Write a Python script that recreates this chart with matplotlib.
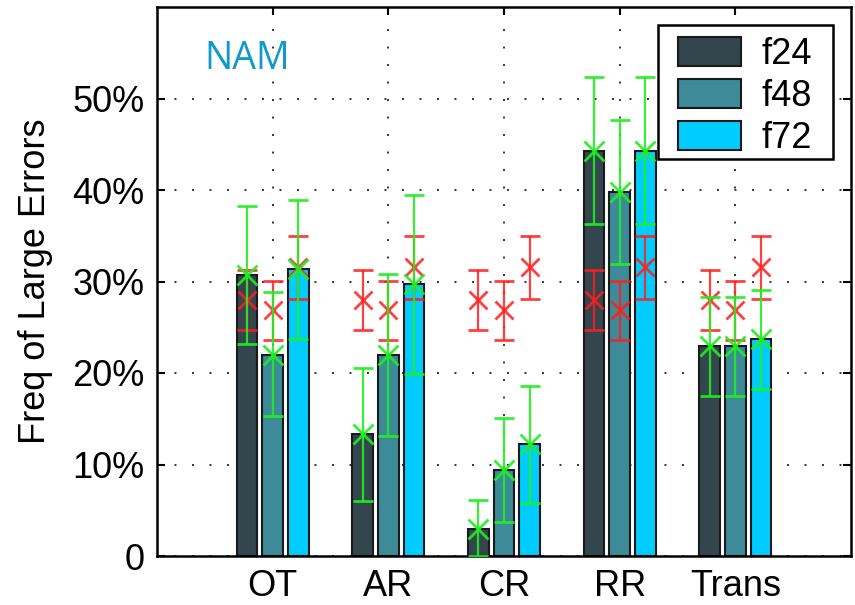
import matplotlib
matplotlib.use("Agg")
import matplotlib.pyplot as plt
import numpy as np
from matplotlib.ticker import FuncFormatter
from matplotlib.patches import Rectangle

plt.rcParams['font.family'] = ['Liberation Sans', 'DejaVu Sans']

# values (percent)
categories = ['OT', 'AR', 'CR', 'RR', 'Trans']
series = ['f24', 'f48', 'f72']
colors = ['#33454D', '#3D8A99', '#00CCFF']

f24 = [30.7, 13.3, 2.9, 44.3, 22.9]
f48 = [22.0, 22.0, 9.4, 39.8, 22.9]
f72 = [31.4, 29.7, 12.2, 44.3, 23.7]

f24_lo = [23.2, 6.0, 0.0, 36.3, 17.5]
f24_hi = [38.2, 20.5, 6.1, 52.3, 28.3]
f48_lo = [15.3, 13.1, 3.7, 31.9, 17.5]
f48_hi = [28.8, 30.8, 15.1, 47.7, 28.3]
f72_lo = [23.7, 19.9, 5.8, 36.3, 18.3]
f72_hi = [38.9, 39.4, 18.6, 52.3, 29.1]

# reference (red) values, same for every category
ref = [28.0, 26.9, 31.6]
ref_lo = [24.7, 23.6, 28.1]
ref_hi = [31.3, 30.1, 35.0]

vals = [f24, f48, f72]
los = [f24_lo, f48_lo, f72_lo]
his = [f24_hi, f48_hi, f72_hi]

fig = plt.figure(figsize=(8.55, 6.05), dpi=100)
ax = fig.add_axes([157 / 855, 49 / 605, 694 / 855, 549 / 605])

x = np.arange(1, len(categories) + 1)
step = 2.0 / 9.0
width = 0.8 * step

for i in range(3):
    pos = x + (i - 1) * step
    v = np.array(vals[i])
    ax.bar(pos, v, width, color=colors[i], edgecolor='#1a1a1a', linewidth=1.5,
           label=series[i], zorder=2)
    # red reference
    r = np.full(len(x), ref[i])
    ax.errorbar(pos, r, yerr=[r - ref_lo[i], np.full(len(x), ref_hi[i]) - r],
                fmt='x', color='#FF1E1E', ecolor='#FF1E1E', alpha=0.85,
                markersize=13, mew=2.0, elinewidth=1.6, capsize=7, capthick=1.6,
                zorder=3)
    # green forecast intervals
    ax.errorbar(pos, v, yerr=[v - np.array(los[i]), np.array(his[i]) - v],
                fmt='x', color='#22EE22', ecolor='#22EE22', alpha=0.9,
                markersize=14, mew=2.0, elinewidth=1.6, capsize=7, capthick=1.6,
                zorder=4)

ax.set_xlim(0, 6)
ax.set_ylim(0, 60)
ax.set_xticks(x)
ax.set_xticklabels(categories)
ax.set_yticks([0, 10, 20, 30, 40, 50])
ax.yaxis.set_major_formatter(FuncFormatter(lambda v, p: '0' if v == 0 else f'{v:.0f}%'))
ax.set_ylabel('Freq of Large Errors', fontsize=26, labelpad=14)

ax.tick_params(direction='in', length=6, width=1.5, top=True, right=True,
               labelsize=26)
ax.tick_params(axis='y', pad=9)
ax.tick_params(axis='x', pad=9)
for s in ax.spines.values():
    s.set_linewidth(1.8)
    s.set_color('black')

ax.set_axisbelow(True)
ax.grid(True, color='#333333', linewidth=1.4, linestyle=(0, (1, 8)))

ax.text(0.78, 54.3, 'NAM', color='#1199CC', fontsize=27, ha='center', va='center',
        family=['Open Sans', 'DejaVu Sans'])

# legend box drawn by hand so the padding matches
ax.add_patch(Rectangle((0.722, 0.723), 0.252, 0.244, transform=ax.transAxes,
                       facecolor='white', edgecolor='black', linewidth=1.8,
                       zorder=5))
leg = ax.legend(loc='upper left', bbox_to_anchor=(0.7507, 0.946), borderaxespad=0,
                fontsize=26, frameon=False, borderpad=0,
                handlelength=1.75, handleheight=0.85, handletextpad=0.55,
                labelspacing=0.2)
leg.set_zorder(6)

fig.savefig('out.png', dpi=100)
